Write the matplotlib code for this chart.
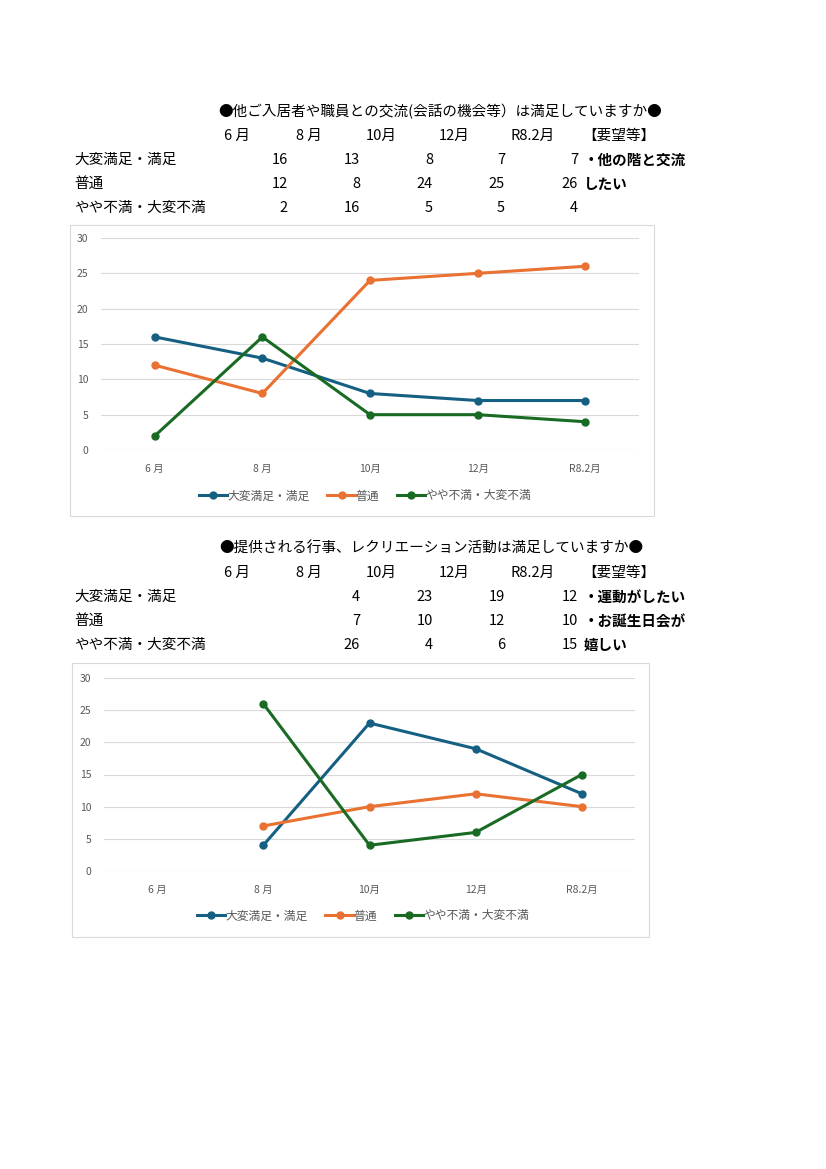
import numpy as np
import matplotlib.pyplot as plt
from matplotlib.patches import Rectangle

plt.rcParams['font.family'] = ['Noto Sans CJK JP', 'DejaVu Sans']

# data
months = ["6 月", "8 月", "10月", "12月", "R8.2月"]
rows = ["大変満足・満足", "普通", "やや不満・大変不満"]

title1 = "●他ご入居者や職員との交流(会話の機会等）は満足していますか●"
q1_satisfied = [16, 13, 8, 7, 7]
q1_normal = [12, 8, 24, 25, 26]
q1_unsatisfied = [2, 16, 5, 5, 4]
q1_requests = ["・他の階と交流", "したい", ""]

title2 = "●提供される行事、レクリエーション活動は満足していますか●"
q2_satisfied = [np.nan, 4, 23, 19, 12]
q2_normal = [np.nan, 7, 10, 12, 10]
q2_unsatisfied = [np.nan, 26, 4, 6, 15]
q2_requests = ["・運動がしたい", "・お誕生日会が", "嬉しい"]

colors = ["#156082", "#E97132", "#196B24"]

W, H = 826, 1169
fig = plt.figure(figsize=(W / 100, H / 100), dpi=100)


def fx(px):
    return px / W


def fy(py):
    return 1 - py / H


def table(y0, title, tcx, series, requests):
    fs = 10.5
    fig.text(fx(tcx), fy(y0), title, ha="center", va="center", fontsize=fs)
    head_x = [237, 309, 381, 454, 533]
    for m, x in zip(months, head_x):
        fig.text(fx(x), fy(y0 + 24), m, ha="center", va="center", fontsize=fs)
    fig.text(fx(619), fy(y0 + 24), "【要望等】", ha="center", va="center", fontsize=fs)
    col_r = [288, 360, 433, 505, 578]
    for i, (lab, vals, req) in enumerate(zip(rows, series, requests)):
        yy = y0 + 48 + 24 * i
        fig.text(fx(74), fy(yy), lab, ha="left", va="center", fontsize=fs)
        for v, x in zip(vals, col_r):
            if not np.isnan(v):
                fig.text(fx(x), fy(yy), str(int(v)), ha="right", va="center", fontsize=fs)
        if req:
            fig.text(fx(584), fy(yy), req, ha="left", va="center", fontsize=fs,
                     fontweight="bold")


def chart(box, plot, series, legend_xy):
    bx0, by0, bx1, by1 = box
    fig.patches.append(Rectangle((fx(bx0), fy(by1)), fx(bx1 - bx0), (by1 - by0) / H,
                                 transform=fig.transFigure, fill=False,
                                 edgecolor="#D9D9D9", linewidth=0.8))
    px0, py_top, px1, py_bot = plot
    ax = fig.add_axes([fx(px0), fy(py_bot), fx(px1 - px0), (py_bot - py_top) / H])
    x = np.arange(len(months))
    for vals, lab, c in zip(series, rows, colors):
        ax.plot(x, vals, color=c, lw=2.2, marker="o", markersize=5, label=lab)
    ax.set_xlim(-0.5, len(months) - 0.5)
    ax.set_ylim(0, 30)
    ax.set_yticks(range(0, 31, 5))
    ax.set_xticks(x)
    ax.set_xticklabels(months)
    ax.grid(axis="y", color="#D9D9D9", lw=0.8)
    ax.set_axisbelow(True)
    for s in ax.spines.values():
        s.set_visible(False)
    ax.tick_params(length=0, labelsize=7.5, labelcolor="#595959")
    ax.tick_params(axis="y", pad=9)
    ax.tick_params(axis="x", pad=10)
    ax.patch.set_alpha(0)
    handles, labels = ax.get_legend_handles_labels()
    fig.legend(handles, labels, loc="center", bbox_to_anchor=(fx(legend_xy[0]), fy(legend_xy[1])),
               ncol=3, frameon=False, fontsize=8.5, handlelength=2.4, columnspacing=1.5,
               handletextpad=0.0, labelcolor="#595959")


table(112, title1, 440, [q1_satisfied, q1_normal, q1_unsatisfied], q1_requests)
chart((70, 225, 654, 516), (101, 238, 639, 450),
      [q1_satisfied, q1_normal, q1_unsatisfied], (365, 496))

table(549, title2, 431, [q2_satisfied, q2_normal, q2_unsatisfied], q2_requests)
chart((72, 663, 649, 937), (104, 678, 635, 871),
      [q2_satisfied, q2_normal, q2_unsatisfied], (363, 916))

fig.savefig("out.png", dpi=100)
